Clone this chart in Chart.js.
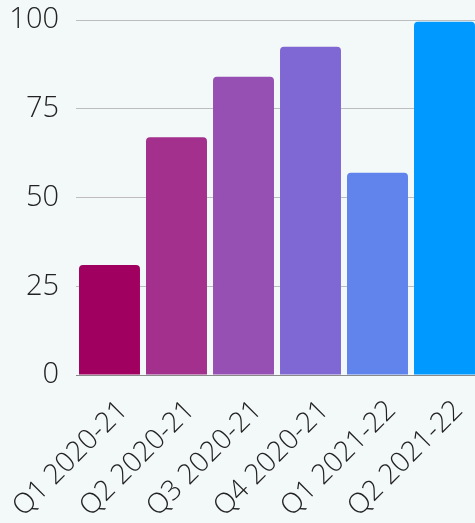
<!DOCTYPE html>
<html>
<head>
<meta charset="utf-8">
<script src="https://cdn.jsdelivr.net/npm/chart.js@4"></script>
<style>
  html, body { margin: 0; padding: 0; background: #f3f8f8; overflow: hidden; }
  #wrap { width: 484px; height: 523px; margin-left: -3px; }
</style>
</head>
<body>
<div id="wrap"><canvas id="barChart"></canvas></div>
<script>
var quarters = ["Q1 2020-21", "Q2 2020-21", "Q3 2020-21", "Q4 2020-21", "Q1 2021-22", "Q2 2021-22"];
var values = [31, 67, 84, 92.5, 57, 99.5];
var barColors = ["#a0005f", "#a2308c", "#9650b4", "#8068d4", "#6084ec", "#0099ff"];
var yTicks = [0, 25, 50, 75, 100];

var loadBarChart = function() {
    var barChart = document.getElementById('barChart');

    var myChart = new Chart(barChart, {
        type: 'bar',
        data: {
            labels: quarters,
            datasets: [
                {
                    data: values,
                    backgroundColor: barColors,
                    borderRadius: { topLeft: 4, topRight: 4 },
                    borderSkipped: 'bottom',
                    barPercentage: 0.91,
                    categoryPercentage: 1
                }
            ]
        },
        options: {
            responsive: true,
            maintainAspectRatio: false,
            animation: false,
            layout: { padding: { top: 20, right: 3, bottom: 0, left: 0 } },
            plugins: {
                legend: { display: false },
                tooltip: { enabled: false }
            },
            scales: {
                x: {
                    afterFit: function(axis) {
                        axis.paddingLeft = 0;
                        axis.paddingRight = 0;
                        axis.height = 148;
                    },
                    grid: { display: false },
                    border: { color: '#8a8a8a', width: 1 },
                    ticks: {
                        autoSkip: false,
                        maxRotation: 45,
                        minRotation: 45,
                        padding: 11,
                        labelOffset: 14,
                        color: '#222',
                        font: { family: 'Open Sans', size: 28, weight: '300' }
                    }
                },
                y: {
                    min: 0,
                    max: 100,
                    afterBuildTicks: function(axis) {
                        axis.ticks = yTicks.map(function(v) { return { value: v }; });
                    },
                    afterFit: function(axis) {
                        axis.paddingTop = 0;
                        axis.paddingBottom = 0;
                        axis.width = 79;
                    },
                    grid: { color: '#bdbdbd', drawTicks: false },
                    border: { display: false },
                    ticks: {
                        padding: 17,
                        color: '#222',
                        font: { family: 'Open Sans', size: 29, weight: '300' }
                    }
                }
            }
        }
    });
}

loadBarChart();
</script>
</body>
</html>
